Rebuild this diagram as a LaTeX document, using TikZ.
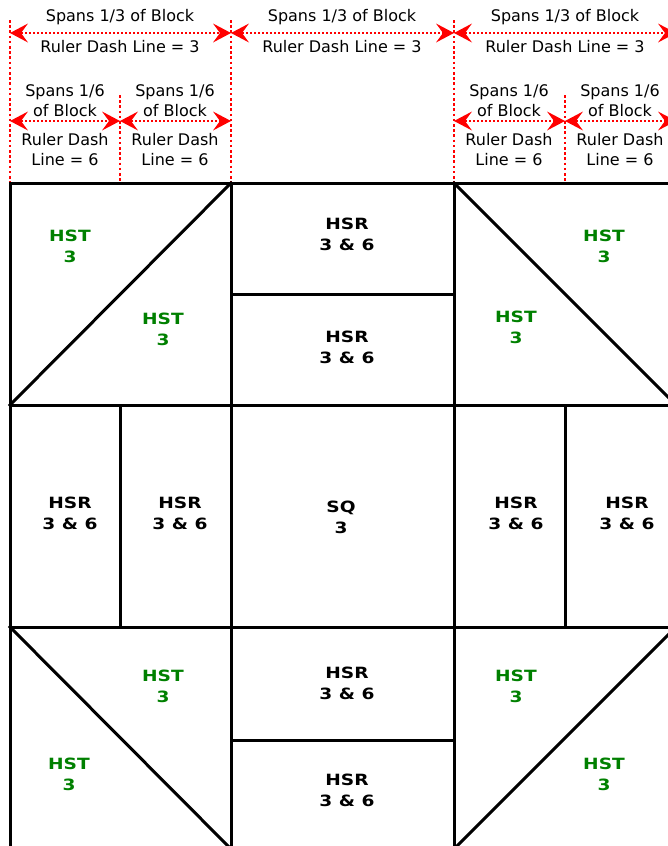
\documentclass[tikz,border=0pt]{standalone}
\usepackage{fontspec}
\setmainfont{DejaVu Sans}
\newfontfamily\patchfont[FakeStretch=1.2]{DejaVu Sans}
\usepackage{xcolor}
\usetikzlibrary{arrows.meta}

\definecolor{hstgreen}{RGB}{0,128,0}

\begin{document}
\begin{tikzpicture}[
  x=1pt, y=-1pt,
  seam/.style={line width=3pt, black, line cap=rect},
  ruler/.style={red, line width=2.6pt, dash pattern=on 2.6pt off 2.6pt},
  tip/.tip={Stealth[length=18pt,width=19pt,inset=7pt,line width=0pt]},
  span/.style={arrows={tip-tip}, red, line width=1.5pt, dash pattern=on 1.5pt off 2.5pt},
  note/.style={font=\fontsize{16}{20}\selectfont, align=center, inner sep=0pt},
  hsr/.style={font=\patchfont\bfseries\fontsize{15.5}{21}\selectfont, align=center, inner sep=0pt},
  hst/.style={hsr, text=hstgreen}
]
  \useasboundingbox (0,0) rectangle (668,846);
  \clip (0,0) rectangle (668,846);

  % ruler marks
  \foreach \x/\n in {10/a,231/b,454/c,676/d} {
    \coordinate (top\n) at (\x,20);
    \coordinate (bot\n) at (\x,183);
    \coordinate (hi\n) at (\x,33);
    \coordinate (lo\n) at (\x,121);
  }
  \foreach \x/\n in {120/e,565/f} {
    \coordinate (top\n) at (\x,95);
    \coordinate (bot\n) at (\x,183);
    \coordinate (lo\n) at (\x,121);
  }
  \foreach \n in {a,b,c,d,e,f}
    \draw[ruler] (top\n) -- (bot\n);

  \draw[span] (hia) -- (hib);
  \draw[span] (hib) -- (hic);
  \draw[span] (hic) -- (hid);
  \draw[span] (loa) -- (loe);
  \draw[span] (loe) -- (lob);
  \draw[span] (loc) -- (lof);
  \draw[span] (lof) -- (lod);

  \foreach \x/\n in {120/1,342/2,565/3} {
    \node[note] (third\n) at (\x,17) {Spans 1/3 of Block};
    \node[note] (dash\n) at (\x,47) {Ruler Dash Line = 3};
  }
  \foreach \x/\n in {65/1,175/2,509/3,620/4} {
    \node[note] (sixth\n) at (\x,101) {Spans 1/6\\of Block};
    \node[note] (rdash\n) at (\x,150) {Ruler Dash\\Line = 6};
  }

  % block seams
  \draw[seam] (10,183) rectangle (676,849);
  \draw[seam] (10,405) -- (676,405);
  \draw[seam] (10,627) -- (676,627);
  \draw[seam] (231,183) -- (231,849);
  \draw[seam] (454,183) -- (454,849);
  \draw[seam] (231,294) -- (454,294);
  \draw[seam] (231,740) -- (454,740);
  \draw[seam] (120,405) -- (120,627);
  \draw[seam] (565,405) -- (565,627);
  \draw[seam] (10,405) -- (231,183);
  \draw[seam] (454,183) -- (676,405);
  \draw[seam] (10,627) -- (231,849);
  \draw[seam] (454,849) -- (676,627);

  % patch labels
  \node[hst] (tl1) at (70,246) {HST\\3};
  \node[hst] (tl2) at (163,329) {HST\\3};
  \node[hsr] (tm1) at (347,234) {HSR\\3 \& 6};
  \node[hsr] (tm2) at (347,347) {HSR\\3 \& 6};
  \node[hst] (tr1) at (604,246) {HST\\3};
  \node[hst] (tr2) at (516,327) {HST\\3};

  \node[hsr] (ml1) at (70,513) {HSR\\3 \& 6};
  \node[hsr] (ml2) at (180,513) {HSR\\3 \& 6};
  \node[hsr] (sq) at (341,517) {SQ\\3};
  \node[hsr] (mr1) at (516,513) {HSR\\3 \& 6};
  \node[hsr] (mr2) at (627,513) {HSR\\3 \& 6};

  \node[hst] (bl1) at (163,686) {HST\\3};
  \node[hst] (bl2) at (69,774) {HST\\3};
  \node[hsr] (bm1) at (347,683) {HSR\\3 \& 6};
  \node[hsr] (bm2) at (347,790) {HSR\\3 \& 6};
  \node[hst] (br1) at (516,686) {HST\\3};
  \node[hst] (br2) at (604,774) {HST\\3};
\end{tikzpicture}
\end{document}
